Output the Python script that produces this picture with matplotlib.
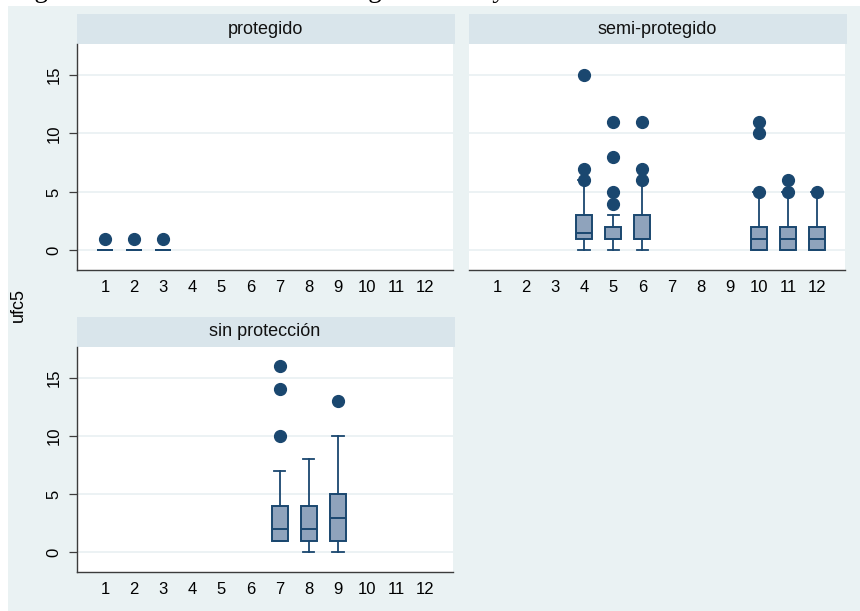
import matplotlib
matplotlib.use("Agg")
import matplotlib.pyplot as plt
from matplotlib.patches import Rectangle

plt.rcParams["font.family"] = ["Liberation Sans", "DejaVu Sans"]

# ---- data: box statistics of ufc5 per month, one group per panel ----
month_ticks = list(range(1, 13))
y_ticks = [0, 5, 10, 15]
y_label = "ufc5"
caption = "Figura 3. Distribución de ufc5 según el mes y zona"

prot_title = "protegido"
prot_month = [1, 2, 3]
prot_q1 = [0, 0, 0]
prot_med = [0, 0, 0]
prot_q3 = [0, 0, 0]
prot_lo = [0, 0, 0]
prot_hi = [0, 0, 0]
prot_out = [[1], [1], [1]]

semi_title = "semi-protegido"
semi_month = [4, 5, 6, 10, 11, 12]
semi_q1 = [1, 1, 1, 0, 0, 0]
semi_med = [1.5, 1, 1, 1, 1, 1]
semi_q3 = [3, 2, 3, 2, 2, 2]
semi_lo = [0, 0, 0, 0, 0, 0]
semi_hi = [6, 3, 6, 5, 5, 5]
semi_out = [[6, 7, 15], [4, 5, 8, 11], [6, 7, 11], [5, 10, 11], [5, 6], [5]]

sin_title = "sin protección"
sin_month = [7, 8, 9]
sin_q1 = [1, 1, 1]
sin_med = [2, 2, 3]
sin_q3 = [4, 4, 5]
sin_lo = [1, 0, 0]
sin_hi = [7, 8, 10]
sin_out = [[10, 14, 16], [], [13]]

# ---- style ----
NAVY = "#1A476F"
BOX_FILL = "#8FA3BC"
OUTER_BG = "#EAF2F3"
STRIP_BG = "#D9E5EB"
GRID = "#E7EFF1"
SPINE = "#3C3C3C"

W, H = 860, 611
fig = plt.figure(figsize=(W / 100, H / 100), dpi=100, facecolor="white")
fig.patches.append(Rectangle((8 / W, 0), 1, 1 - 6 / H, transform=fig.transFigure,
                             facecolor=OUTER_BG, edgecolor="none", zorder=-10))


def px_axes(x0, y0, x1, y1):
    return fig.add_axes([x0 / W, 1 - y1 / H, (x1 - x0) / W, (y1 - y0) / H])


def build_stats(q1, med, q3, lo, hi, out):
    return [dict(q1=a, med=b, q3=c, whislo=d, whishi=e, fliers=f)
            for a, b, c, d, e, f in zip(q1, med, q3, lo, hi, out)]


def panel(ax, title, months, stats, show_y):
    ax.set_facecolor("white")
    ax.set_xlim(0.04, 12.96)
    ax.set_ylim(-1.68, 17.65)
    for v in y_ticks:
        ax.axhline(v, color=GRID, lw=1.1, zorder=0)
    ax.bxp(stats, positions=months, widths=0.55, capwidths=0.4,
           patch_artist=True, showfliers=True,
           boxprops=dict(facecolor=BOX_FILL, edgecolor=NAVY, linewidth=1.4),
           medianprops=dict(color=NAVY, linewidth=1.4),
           whiskerprops=dict(color=NAVY, linewidth=1.3),
           capprops=dict(color=NAVY, linewidth=1.3),
           flierprops=dict(marker="o", markerfacecolor=NAVY, markeredgecolor=NAVY,
                           markersize=8.5, linestyle="none"),
           zorder=3)
    ax.set_xticks(month_ticks)
    ax.set_xticklabels([str(m) for m in month_ticks])
    ax.tick_params(axis="x", length=0, pad=7, labelsize=12, colors="black")
    ax.spines["top"].set_visible(False)
    ax.spines["right"].set_visible(False)
    ax.spines["bottom"].set_color(SPINE)
    ax.spines["bottom"].set_linewidth(1.0)
    if show_y:
        ax.set_yticks(y_ticks)
        ax.set_yticklabels([str(v) for v in y_ticks], rotation=90, va="center")
        ax.tick_params(axis="y", length=6, width=0.9, pad=5, labelsize=12,
                       color=SPINE, labelcolor="black")
        ax.spines["left"].set_color(SPINE)
        ax.spines["left"].set_linewidth(1.0)
    else:
        ax.set_yticks([])
        ax.spines["left"].set_visible(False)
    # title strip above the plot area
    bb = ax.get_position()
    strip_h = 30 / H / bb.height
    ax.add_patch(Rectangle((0, 1), 1.005, strip_h, transform=ax.transAxes,
                           facecolor=STRIP_BG, edgecolor="none", clip_on=False))
    ax.text(0.5, 1 + strip_h / 2, title, transform=ax.transAxes, ha="center",
            va="center", fontsize=13, color="#111111")


ax1 = px_axes(77, 44, 453, 270)
panel(ax1, prot_title, prot_month,
      build_stats(prot_q1, prot_med, prot_q3, prot_lo, prot_hi, prot_out), True)

ax2 = px_axes(469, 44, 845, 270)
panel(ax2, semi_title, semi_month,
      build_stats(semi_q1, semi_med, semi_q3, semi_lo, semi_hi, semi_out), False)

ax3 = px_axes(77, 347, 453, 572)
panel(ax3, sin_title, sin_month,
      build_stats(sin_q1, sin_med, sin_q3, sin_lo, sin_hi, sin_out), True)

fig.text(18 / W, 1 - 305 / H, y_label, rotation=90, ha="center", va="center",
         fontsize=13, color="black")

# caption line running off the top edge: only its descenders stay on the page
fig.text(12 / W, 1 + 3 / H, caption, fontfamily="Liberation Serif", fontsize=19.5,
         va="baseline", ha="left", color="black")

fig.savefig("out.png", dpi=100, facecolor=fig.get_facecolor())
